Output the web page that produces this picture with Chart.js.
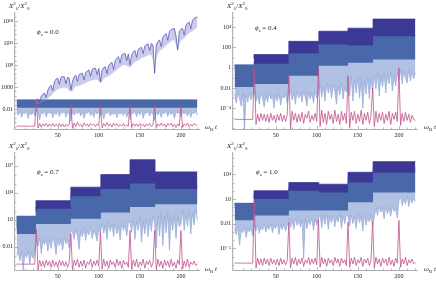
<!DOCTYPE html>
<html>
<head>
<meta charset="utf-8">
<script src="https://cdn.jsdelivr.net/npm/chart.js@4"></script>
<style>
  body { margin: 0; width: 436px; height: 281px; overflow: hidden; position: relative; background: #fff;
         font-family: 'Liberation Serif', 'DejaVu Serif', serif; color: #222; }
  .panel { position: absolute; width: 218px; }
  .panel canvas { position: absolute; left: 0; top: 0; }
  .lbl { position: absolute; font-size: 7px; line-height: 1; white-space: nowrap; }
  .lbl i { font-style: italic; }
  .lbl sup, .lbl sub { font-size: 5px; line-height: 0; }
</style>
</head>
<body>

<div class="panel" style="left:0;top:0;height:140px">
  <canvas id="c0" width="218" height="140"></canvas>
  <span class="lbl" style="left:9px;top:3px"><i>X</i><sup>2</sup><sub>λ</sub>/<i>X</i><sup>2</sup><sub>0</sub></span>
  <span class="lbl" style="left:37px;top:29px"><i>ϕ</i><sub>s</sub> = 0.0</span>
  <span class="lbl" style="left:205px;top:124px"><i>ω</i><sub>R</sub> <i>t</i></span>
</div>
<div class="panel" style="left:218px;top:0;height:140px">
  <canvas id="c1" width="218" height="140"></canvas>
  <span class="lbl" style="left:9px;top:3px"><i>X</i><sup>2</sup><sub>λ</sub>/<i>X</i><sup>2</sup><sub>0</sub></span>
  <span class="lbl" style="left:37px;top:25px"><i>ϕ</i><sub>s</sub> = 0.4</span>
  <span class="lbl" style="left:206px;top:124px"><i>ω</i><sub>R</sub> <i>t</i></span>
</div>
<div class="panel" style="left:0;top:140px;height:141px">
  <canvas id="c2" width="218" height="141"></canvas>
  <span class="lbl" style="left:9px;top:3px"><i>X</i><sup>2</sup><sub>λ</sub>/<i>X</i><sup>2</sup><sub>0</sub></span>
  <span class="lbl" style="left:37px;top:29px"><i>ϕ</i><sub>s</sub> = 0.7</span>
  <span class="lbl" style="left:205px;top:126px"><i>ω</i><sub>R</sub> <i>t</i></span>
</div>
<div class="panel" style="left:218px;top:140px;height:141px">
  <canvas id="c3" width="218" height="141"></canvas>
  <span class="lbl" style="left:9px;top:3px"><i>X</i><sup>2</sup><sub>λ</sub>/<i>X</i><sup>2</sup><sub>0</sub></span>
  <span class="lbl" style="left:38px;top:29px"><i>ϕ</i><sub>s</sub> = 1.0</span>
  <span class="lbl" style="left:206px;top:126px"><i>ω</i><sub>R</sub> <i>t</i></span>
</div>

<script>
// ── DATA ──────────────────────────────────────
// all y values are log10 of X²λ/X²0
const stepT   = [0, 23.5, 66, 102.5, 138, 168.5, 199, 220];   // kick times (ω_R t)
const GRID_DT = 2;                                             // spacing of gridded series
const xTickVals = [50, 100, 150, 200];

// ── panel 1 : φs = 0.0
const p1YTicks  = [1e-2, 1e3, 1e8, 1e13, 1e18];
const p1YLabels = ['0.01', '1000', '10⁸', '10¹³', '10¹⁸'];
const p1SteelTop = [0.1, 0.1, 0.1, 0.1, 0.1, 0.1, 0.1];
const p1SteelBot = [-1.7, -1.7, -1.7, -1.7, -1.7, -1.7, -1.7];
const p1Light = [
  -2.6, -3.4, -2.4, -3.9, -2.8, -3.1, -2.5, -4.2, -2.7, -3.3,
  -2.5, -3.6, -2.3, -3.0, -4.5, -2.6, -3.2, -2.4, -3.8, -2.7,
  -3.1, -2.5, -4.0, -2.6, -3.3, -2.4, -3.7, -2.8, -3.0, -2.5,
  -3.9, -2.6, -3.2, -4.8, -2.5, -3.4, -2.7, -3.1, -2.4, -3.6,
  -2.6, -4.1, -2.8, -3.0, -2.5, -3.5, -2.7, -3.9, -2.4, -3.2,
  -2.6, -3.7, -2.5, -4.3, -2.7, -3.1, -2.4, -3.6, -2.8, -3.3,
  -2.5, -4.0, -2.6, -3.2, -2.7, -3.5, -2.4, -3.9, -2.6, -4.4,
  -2.7, -3.1, -2.5, -3.8, -2.6, -3.3, -2.4, -4.1, -2.8, -3.0,
  -2.5, -3.6, -2.7, -3.2, -4.6, -2.6, -3.4, -2.5, -3.9, -2.7,
  -3.1, -2.4, -3.7, -2.6, -3.3, -2.5, -4.2, -2.7, -3.0, -2.6,
  -3.8, -2.5, -3.2, -2.6, -3.6, -2.4, -3.9, -2.7, -3.1, -2.5,
  -3.4
];
const p1Pink = [
  -5.9, -5.9, -5.9, -5.9, -5.9, -5.9, -5.9, -5.9, -5.9, -5.9,
  -5.9, -5.9, 0.0, -6.3, -5.3, -6.1, -5.4, -5.9, -5.3, -6.0,
  -5.4, -5.9, -5.3, -6.0, -5.5, -5.9, -5.3, -6.0, -5.4, -6.1,
  -5.5, -5.9, -5.6, -1.0, -6.4, -5.2, -6.0, -5.0, -5.8, -5.5,
  -6.1, -5.2, -5.8, -5.4, -6.0, -5.3, -5.7, -5.4, -6.0, -5.4,
  -5.8, -1.2, -6.3, -5.3, -5.9, -5.1, -5.9, -5.4, -6.1, -5.2,
  -5.8, -5.3, -6.0, -5.5, -5.9, -5.3, -6.0, -5.6, -5.9, -1.0,
  -6.2, -5.3, -5.9, -5.4, -6.0, -5.3, -5.8, -5.5, -6.1, -5.4,
  -5.8, -5.3, -6.0, -5.6, -1.2, -6.3, -5.4, -5.9, -5.2, -5.8,
  -5.4, -6.1, -5.3, -5.7, -5.2, -6.0, -5.5, -6.2, -5.4, -5.9,
  -1.2, -6.2, -5.4, -5.8, -5.2, -6.0, -5.5, -5.9, -5.3, -5.7,
  -5.6
];
// growing mode, starts at t = 24
const P1_GROW_T0 = 24;
const p1GrowTop = [
  0.0, 0.3, -0.5, 0.9, 1.4, 1.6, 0.6, 2.3, 3.0, 3.4,
  2.2, 4.2, 4.8, 5.0, 3.6, 5.2, 5.35, 5.3, 3.8, 5.2,
  5.0, 2.3, 4.3, 5.3, 5.7, 4.3, 5.8, 6.0, 6.1, 4.6,
  6.3, 6.6, 6.9, 5.4, 7.0, 7.2, 7.25, 5.8, 7.2, 4.2,
  6.8, 7.4, 7.6, 6.0, 7.9, 8.3, 8.6, 7.0, 9.0, 9.5,
  9.9, 8.4, 10.3, 10.5, 10.6, 9.0, 10.5, 8.0, 10.3, 10.9,
  11.3, 9.7, 11.5, 11.8, 12.0, 10.6, 12.3, 12.6, 12.8, 11.3,
  12.9, 12.5, 6.1, 12.6, 13.3, 13.7, 12.2, 14.3, 14.8, 15.1,
  13.6, 15.6, 16.0, 16.2, 16.3, 14.6, 11.4, 15.6, 16.1, 16.3,
  14.8, 17.0, 17.5, 17.7, 16.2, 18.1, 18.6, 18.8, 18.9
];
const p1GrowBot = [
  -0.8, -0.8, -0.8, -0.6, -0.3, -0.2, 0.2, 0.4, 0.8, 1.0,
  1.5, 1.8, 2.2, 2.5, 2.6, 2.7, 2.8, 2.9, 2.8, 2.6,
  2.2, 1.9, 2.0, 2.8, 3.1, 3.2, 3.3, 3.4, 3.6, 3.7,
  3.9, 4.1, 4.3, 4.4, 4.5, 4.6, 4.7, 4.6, 4.3, 3.8,
  4.2, 4.9, 5.1, 5.3, 5.4, 5.7, 6.0, 6.3, 6.5, 6.9,
  7.2, 7.5, 7.8, 8.0, 8.0, 7.8, 7.6, 7.4, 7.8, 8.3,
  8.7, 8.9, 9.0, 9.3, 9.5, 9.7, 9.8, 10.0, 10.2, 10.3,
  10.2, 9.0, 5.8, 9.5, 10.6, 11.1, 11.5, 11.7, 12.1, 12.5,
  12.8, 13.0, 13.4, 13.6, 13.6, 12.5, 11.1, 12.8, 13.5, 13.8,
  14.1, 14.4, 14.9, 15.2, 15.5, 15.6, 16.0, 16.3, 16.4
];

// ── panel 2 : φs = 0.4
const p2YTicks  = [1e-4, 1e-2, 1, 100, 1e4];
const p2YLabels = ['10⁻⁴', '0.01', '1', '100', '10⁴'];
const p2DarkTop  = [null, 0.87, 1.3, 2.6, 3.6, 3.9, 4.8];
const p2DarkBot  = [null, 0.1, 0.4, 1.4, 2.3, 2.2, 3.1];
const p2SteelTop = [0.0, 0.3, 0.6, 1.6, 2.5, 2.4, 3.2];
const p2SteelBot = [-1.9, -1.9, -1.6, -0.8, 0.2, 0.5, 0.8];
const p2Light = [
  -2.6, -3.5, -2.4, -3.1, -3.8, -2.5, -6.2, -2.7, -3.4, -2.5,
  -3.2, -2.6, -2.4, -3.3, -2.7, -3.6, -2.5, -3.0, -3.9, -2.6,
  -3.4, -2.5, -3.1, -2.7, -4.0, -2.6, -3.3, -2.5, -3.7, -2.8,
  -3.0, -2.6, -3.5, -2.4, -2.4, -3.2, -2.5, -3.6, -2.3, -3.0,
  -2.5, -3.4, -2.3, -2.9, -3.8, -2.4, -3.1, -2.5, -3.5, -2.3,
  -3.0, -2.6, -1.6, -2.9, -1.8, -3.3, -1.5, -2.5, -1.7, -3.0,
  -1.6, -2.4, -3.6, -1.8, -2.7, -1.5, -3.1, -1.9, -2.4, -1.4,
  -2.8, -0.8, -3.3, -1.2, -2.5, -0.9, -3.0, -1.1, -4.0, -1.3,
  -2.6, -0.9, -3.1, -1.0, -2.4, -0.7, -2.1, -0.5, -2.8, -0.8,
  -1.9, -0.6, -2.5, -0.7, -1.6, -0.4, -2.3, -0.8, -1.8, -0.5,
  -1.2, -0.2, -1.6, -0.3, -1.0, -1.5, -0.2, -1.3, -0.4, -1.1,
  -0.5
];
const p2Pink = [
  -5.1, -5.1, -5.1, -5.1, -5.1, -5.1, -5.1, -5.1, -5.1, -5.1,
  -5.1, -5.1, 0.0, -5.6, -4.6, -5.3, -4.5, -5.2, -4.6, -5.3,
  -4.6, -5.4, -4.5, -5.2, -4.7, -5.4, -4.6, -5.2, -4.5, -5.3,
  -4.7, -5.3, -4.6, -0.8, -6.1, -4.3, -5.2, -4.5, -5.4, -4.6,
  -5.3, -4.4, -5.5, -4.6, -5.0, -4.3, -5.4, -4.7, -5.2, -4.5,
  -5.3, 0.0, -5.8, -4.2, -5.4, -4.5, -5.6, -4.3, -5.1, -4.6,
  -5.5, -4.2, -5.3, -4.6, -5.6, -4.3, -5.2, -4.5, -5.5, -0.8,
  -5.9, -4.4, -5.2, -4.3, -5.5, -4.6, -5.3, -4.2, -5.6, -4.5,
  -5.2, -4.4, -5.5, -4.7, -2.0, -5.8, -4.3, -5.4, -4.5, -5.2,
  -4.4, -5.5, -4.6, -5.2, -4.3, -5.6, -4.5, -5.1, -4.4, -5.3,
  0.0, -5.7, -4.5, -5.3, -4.4, -5.2, -4.6, -5.4, -4.7, -5.1,
  -5.2
];

// ── panel 3 : φs = 0.7
const p3YTicks  = [1e-2, 10, 1e4, 1e7];
const p3YLabels = ['0.01', '10', '10⁴', '10⁷'];
const p3DarkTop  = [null, 1.9, 3.1, 4.6, 6.0, 7.65, 6.3];
const p3DarkBot  = [null, 1.2, 2.2, 3.6, 4.4, 5.0, 4.4];
const p3SteelTop = [0.05, 1.4, 2.4, 3.8, 4.6, 5.2, 4.8];
const p3SteelBot = [-2.0, -0.6, 0.5, 1.1, 1.8, 2.4, 2.7];
const p3Light = [
  -3.0, -2.6, -3.6, -2.5, -4.6, -2.8, -3.2, -2.5, -3.9, -2.7,
  -3.3, -2.6, -1.2, -2.0, -1.0, -2.8, -1.3, -1.8, -1.1, -2.5,
  -1.2, -2.2, -1.0, -1.6, -2.9, -1.1, -1.9, -1.2, -2.4, -1.0,
  -1.7, -1.2, -2.2, -0.2, -0.4, -1.2, -0.1, -0.8, -2.3, -0.2,
  -0.9, 0.0, -1.3, -0.3, -0.7, 0.1, -1.1, -0.2, -0.6, -1.4,
  0.0, -0.4, 0.6, -0.5, 0.4, -1.2, 0.7, -0.3, 0.5, -0.9,
  0.6, -0.6, 0.3, -1.3, 0.7, -0.2, 0.4, -0.8, 0.6, 0.8,
  -0.4, 1.2, -1.2, 0.9, -0.2, 1.3, -1.5, 0.8, -0.6, 1.1,
  -0.9, 1.0, -0.3, 1.4, 0.5, -2.2, 1.5, -0.8, 1.7, -1.9,
  1.4, -0.5, 1.8, -2.4, 1.2, -0.2, 1.6, -1.1, 1.3, 0.2,
  0.5, 2.0, -0.2, 1.7, 0.3, 2.1, -0.6, 1.8, 0.4, 2.2,
  0.9
];
const p3Pink = [
  -3.95, -3.95, -3.95, -3.95, -3.95, -3.95, -3.95, -3.95, -3.95, -3.95,
  -3.95, -3.95, -0.1, -4.6, -3.5, -4.2, -3.6, -4.3, -3.5, -4.1,
  -3.6, -4.3, -3.5, -4.2, -3.7, -4.3, -3.5, -4.1, -3.6, -4.2,
  -3.7, -4.3, -3.8, -0.6, -4.6, -3.5, -4.1, -3.4, -4.3, -3.6,
  -4.2, -3.5, -4.4, -3.7, -4.0, -3.4, -4.3, -3.6, -4.1, -3.5,
  -4.2, -0.3, -4.5, -3.4, -4.2, -3.6, -4.4, -3.5, -4.0, -3.7,
  -4.3, -3.4, -4.1, -3.6, -4.4, -3.5, -4.0, -3.7, -4.3, -0.2,
  -4.5, -3.5, -4.2, -3.4, -4.3, -3.7, -4.1, -3.4, -4.4, -3.6,
  -4.0, -3.5, -4.3, -3.8, -0.2, -4.6, -3.4, -4.2, -3.6, -4.4,
  -3.5, -4.1, -3.6, -4.3, -3.4, -4.2, -3.7, -4.4, -3.5, -4.0,
  -0.2, -4.5, -3.6, -4.2, -3.4, -4.3, -3.7, -4.0, -3.6, -4.1,
  -3.9
];

// ── panel 4 : φs = 1.0
const p4YTicks  = [1e-5, 1e-2, 10, 1e4];
const p4YLabels = ['10⁻⁵', '0.01', '10', '10⁴'];
const p4DarkTop  = [null, 1.08, 2.0, 3.0, 2.8, 4.25, 5.55];
const p4DarkBot  = [null, 0.2, 1.0, 2.0, 1.8, 3.0, 4.2];
const p4SteelTop = [0.19, 0.5, 1.4, 2.4, 2.2, 3.6, 4.8];
const p4SteelBot = [-1.85, -1.6, -1.0, -0.4, -0.4, 0.6, 1.8];
const p4Light = [
  -2.6, -3.4, -2.3, -4.6, -2.8, -3.1, -2.4, -3.7, -2.6, -3.0,
  -2.5, -3.5, -2.2, -2.9, -2.1, -3.2, -2.4, -2.8, -2.0, -3.0,
  -2.3, -2.7, -2.0, -3.1, -2.2, -2.6, -1.9, -3.3, -2.1, -2.7,
  -2.0, -2.9, -2.2, -1.4, -2.5, -1.5, -2.7, -1.3, -2.2, -1.6,
  -2.4, -1.5, -6.3, -1.4, -2.6, -1.6, -2.1, -1.3, -2.8, -1.5,
  -2.2, -1.4, -0.9, -2.5, -1.0, -2.1, -0.8, -2.7, -1.1, -1.9,
  -0.9, -2.4, -1.2, -1.8, -0.8, -2.6, -1.0, -2.0, -0.9, -1.1,
  -2.3, -0.9, -2.0, -1.1, -2.6, -0.8, -1.9, -1.0, -2.9, -0.9,
  -2.2, -1.2, -1.8, -0.9, -2.4, -1.2, -0.1, -1.0, 0.1, -0.6,
  0.0, -1.4, 0.2, -0.8, -0.1, -1.1, 0.1, -0.5, -0.2, -1.3,
  0.8, 1.3, 0.2, 1.0, 0.4, 1.4, 0.1, 1.2, 0.5, 1.1,
  0.7
];
const p4Pink = [
  -6.8, -6.8, -6.8, -6.8, -6.8, -6.8, -6.8, -6.8, -6.8, -6.8,
  -6.8, -6.8, 0.8, -7.4, -6.2, -7.0, -6.3, -7.1, -6.2, -6.9,
  -6.3, -7.1, -6.2, -6.9, -6.4, -7.0, -6.3, -7.1, -6.2, -6.9,
  -6.4, -7.0, -6.5, -1.8, -7.4, -6.2, -6.9, -6.1, -7.1, -6.3,
  -6.9, -6.2, -7.2, -6.4, -6.8, -6.1, -7.0, -6.3, -6.9, -6.2,
  -7.0, -1.5, -7.3, -6.1, -6.9, -6.3, -7.2, -6.2, -6.8, -6.4,
  -7.1, -6.1, -6.8, -6.3, -7.2, -6.2, -6.8, -6.4, -7.1, -1.8,
  -7.3, -6.2, -6.9, -6.1, -7.1, -6.4, -6.8, -6.1, -7.2, -6.3,
  -6.8, -6.2, -7.1, -6.5, -1.8, -7.4, -6.1, -6.9, -6.3, -7.2,
  -6.2, -6.8, -6.3, -7.1, -6.1, -7.0, -6.4, -7.2, -6.2, -6.8,
  -1.6, -7.3, -6.3, -6.9, -6.1, -7.1, -6.4, -6.8, -6.3, -6.9,
  -6.7
];

// ── COLOURS ───────────────────────────────────
const C_DARK   = '#3b3896';
const C_STEEL  = '#4868a9';
const C_LIGHT  = '#93a8d6';
const C_LIGHTF = 'rgba(150,172,218,0.75)';
const C_PINK   = '#c0508c';
const C_GROW   = '#4848a8';
const C_GROWF  = 'rgba(140,140,210,0.45)';
const FONT = { family: "'Liberation Serif', 'DejaVu Serif', serif", size: 6 };

// ── PANELS ────────────────────────────────────
const panels = [
  { id: 'c0', yMin: -6.55, yMax: 19.8, axisH: 11, yTicks: p1YTicks, yLabels: p1YLabels,
    upTop: p1GrowTop, upBot: p1GrowBot, grow: true,
    steelTop: p1SteelTop, steelBot: p1SteelBot, light: p1Light, pink: p1Pink },
  { id: 'c1', yMin: -6.05, yMax: 5.4, axisH: 11, yTicks: p2YTicks, yLabels: p2YLabels,
    upTop: p2DarkTop, upBot: p2DarkBot, grow: false,
    steelTop: p2SteelTop, steelBot: p2SteelBot, light: p2Light, pink: p2Pink },
  { id: 'c2', yMin: -4.6, yMax: 8.4, axisH: 11, yTicks: p3YTicks, yLabels: p3YLabels,
    upTop: p3DarkTop, upBot: p3DarkBot, grow: false,
    steelTop: p3SteelTop, steelBot: p3SteelBot, light: p3Light, pink: p3Pink },
  { id: 'c3', yMin: -7.64, yMax: 6.6, axisH: 11, yTicks: p4YTicks, yLabels: p4YLabels,
    upTop: p4DarkTop, upBot: p4DarkBot, grow: false,
    steelTop: p4SteelTop, steelBot: p4SteelBot, light: p4Light, pink: p4Pink }
];

function stepPts(logs) {
  return stepT.map((t, i) => {
    const v = logs[Math.min(i, logs.length - 1)];
    return { x: t, y: v == null ? null : 10 ** v };
  });
}
function gridPts(logs, t0) {
  return logs.map((v, i) => ({ x: t0 + i * GRID_DT, y: 10 ** v }));
}

// inward tick marks, Mathematica style
const tickMarks = {
  id: 'tickMarks',
  afterDraw(chart, args, opts) {
    const { ctx, chartArea: a, scales: { x, y } } = chart;
    ctx.save();
    ctx.strokeStyle = '#8a8a8a';
    ctx.lineWidth = 0.6;
    ctx.beginPath();
    for (let t = 10; t <= 220; t += 10) {
      const px = Math.round(x.getPixelForValue(t)) + 0.5;
      ctx.moveTo(px, a.bottom);
      ctx.lineTo(px, a.bottom - (t % 50 ? 1.5 : 3));
    }
    for (let e = Math.ceil(opts.yMin); e <= opts.yMax; e++) {
      const py = Math.round(y.getPixelForValue(10 ** e)) + 0.5;
      const major = opts.yTicks.some(v => Math.abs(Math.log10(v) - e) < 1e-9);
      ctx.moveTo(a.left, py);
      ctx.lineTo(a.left + (major ? 3 : 1.5), py);
    }
    ctx.stroke();
    ctx.restore();
  }
};

panels.forEach(p => {
  const upper = p.grow
    ? { data: gridPts(p.upTop, P1_GROW_T0), borderColor: C_GROW, borderWidth: 0.7,
        fill: { target: 2, above: C_GROWF, below: C_GROWF } }
    : { data: stepPts(p.upTop), stepped: 'after', borderColor: C_DARK, borderWidth: 0.8,
        fill: { target: 2, above: C_DARK, below: C_DARK } };
  const upperBot = p.grow
    ? { data: gridPts(p.upBot, P1_GROW_T0), borderWidth: 0, fill: false }
    : { data: stepPts(p.upBot), stepped: 'after', borderWidth: 0, fill: false };

  new Chart(document.getElementById(p.id), {
    type: 'line',
    data: {
      datasets: [
        { data: gridPts(p.pink, 0), borderColor: C_PINK, borderWidth: 0.8, fill: false },
        upper,
        upperBot,
        { data: stepPts(p.steelTop), stepped: 'after', borderColor: C_STEEL, borderWidth: 0.5,
          fill: { target: 4, above: C_STEEL, below: C_STEEL } },
        { data: stepPts(p.steelBot), stepped: 'after', borderWidth: 0, fill: false },
        { data: gridPts(p.light, 0), borderColor: C_LIGHT, borderWidth: 0.7,
          fill: { target: 3, above: C_LIGHTF, below: C_LIGHTF } }
      ]
    },
    options: {
      responsive: false,
      animation: false,
      events: [],
      layout: { padding: { top: 13, right: 19, left: 0, bottom: 0 } },
      elements: { point: { radius: 0 }, line: { tension: 0 } },
      plugins: {
        legend: { display: false },
        tooltip: { enabled: false },
        tickMarks: { yMin: p.yMin, yMax: p.yMax, yTicks: p.yTicks }
      },
      scales: {
        x: {
          type: 'linear', min: -2, max: 222,
          afterBuildTicks: s => { s.ticks = xTickVals.map(v => ({ value: v })); },
          afterFit: s => { s.height = p.axisH; },
          grid: { display: false, drawTicks: false },
          border: { display: true, color: '#9a9a9a', width: 0.8 },
          ticks: { font: FONT, color: '#222', padding: 3, maxRotation: 0, autoSkip: false }
        },
        y: {
          type: 'logarithmic', min: 10 ** p.yMin, max: 10 ** p.yMax,
          afterBuildTicks: s => { s.ticks = p.yTicks.map(v => ({ value: v })); },
          afterFit: s => { s.width = 15; },
          grid: { display: false, drawTicks: false },
          border: { display: true, color: '#b4b4b4', width: 1.2 },
          ticks: {
            font: FONT, color: '#222', padding: 2, autoSkip: false,
            callback: v => { const i = p.yTicks.indexOf(v); return i < 0 ? '' : p.yLabels[i]; }
          }
        }
      }
    },
    plugins: [tickMarks]
  });
});
</script>
</body>
</html>
